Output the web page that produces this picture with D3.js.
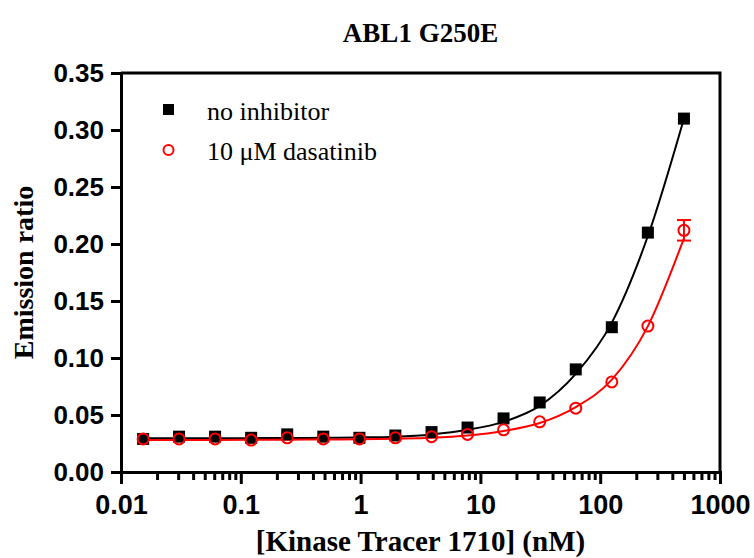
<!DOCTYPE html>
<html>
<head>
<meta charset="utf-8">
<script src="https://cdn.jsdelivr.net/npm/d3@7/dist/d3.min.js"></script>
<style>
  body { margin: 0; background: #fff; }
  svg { display: block; }
</style>
</head>
<body>
<svg width="754" height="558"></svg>
<script>
// tracer concentrations (nM), 2-fold dilution series
const conc = [0.0153, 0.0305, 0.061, 0.122, 0.244, 0.488, 0.977, 1.95, 3.91, 7.81, 15.6, 31.25, 62.5, 125, 250, 500];
// measured emission ratios
const noInhibitor = [0.029, 0.031, 0.031, 0.030, 0.033, 0.031, 0.030, 0.032, 0.035, 0.039, 0.047, 0.061, 0.090, 0.127, 0.210, 0.310];
const dasatinib = [0.029, 0.029, 0.029, 0.028, 0.030, 0.029, 0.029, 0.030, 0.031, 0.033, 0.037, 0.044, 0.056, 0.079, 0.128, 0.212];
const dasatinibErr = [0, 0, 0, 0, 0, 0, 0, 0, 0, 0, 0, 0, 0, 0, 0, 0.009];
// fitted curves at the same concentrations
const fitNoInhibitor = [0.0295, 0.0295, 0.0296, 0.0297, 0.0298, 0.0300, 0.0303, 0.031, 0.033, 0.037, 0.044, 0.058, 0.086, 0.131, 0.207, 0.310];
const fitDasatinib = [0.0280, 0.0280, 0.0281, 0.0282, 0.0283, 0.0285, 0.0287, 0.0292, 0.030, 0.032, 0.036, 0.043, 0.057, 0.081, 0.128, 0.205];

const xTicks = [0.01, 0.1, 1, 10, 100, 1000];
const yTicks = [0, 0.05, 0.10, 0.15, 0.20, 0.25, 0.30, 0.35];
const legendLabels = ["no inhibitor", "10 \u03bcM dasatinib"];

const svg = d3.select("svg");
const pLeft = 121, pRight = 720, pTop = 73, pBottom = 472;
const sans = "Liberation Sans, Arial, sans-serif";
const serif = "Liberation Serif, Times New Roman, serif";

const x = d3.scaleLog().domain([0.01, 1000]).range([pLeft, pRight]);
const y = d3.scaleLinear().domain([0, 0.35]).range([pBottom, pTop]);

// frame (top and right)
svg.append("path")
  .attr("d", `M${pLeft},${pTop}H${pRight}V${pBottom}`)
  .attr("fill", "none")
  .attr("stroke", "#000")
  .attr("stroke-width", 3);

// y axis
const yAxis = svg.append("g")
  .attr("transform", `translate(${pLeft},0)`)
  .call(d3.axisLeft(y).tickValues(yTicks).tickFormat(d3.format(".2f")).tickSize(10).tickPadding(7));
yAxis.select(".domain").attr("stroke-width", 3);
yAxis.selectAll(".tick line").attr("stroke-width", 3);
yAxis.selectAll("text")
  .attr("font-family", sans)
  .attr("font-weight", "bold")
  .attr("font-size", 26)
  .attr("fill", "#000");

// x axis: minor ticks
const minor = [];
for (let e = -2; e < 3; e++) {
  for (let k = 2; k <= 9; k++) minor.push(k * Math.pow(10, e));
}
const xMinor = svg.append("g")
  .attr("transform", `translate(0,${pBottom})`)
  .call(d3.axisBottom(x).tickValues(minor).tickFormat("").tickSize(8));
xMinor.select(".domain").remove();
xMinor.selectAll(".tick line").attr("stroke-width", 3);

const xAxis = svg.append("g")
  .attr("transform", `translate(0,${pBottom})`)
  .call(d3.axisBottom(x).tickValues(xTicks).tickFormat(d => String(d)).tickSize(12).tickPadding(11));
xAxis.select(".domain").attr("stroke-width", 3);
xAxis.selectAll(".tick line").attr("stroke-width", 3);
xAxis.selectAll("text")
  .attr("font-family", sans)
  .attr("font-weight", "bold")
  .attr("font-size", 27)
  .attr("fill", "#000");

// fitted curves
const line = d3.line()
  .x(d => x(d[0]))
  .y(d => y(d[1]))
  .curve(d3.curveMonotoneX);

svg.append("path")
  .datum(conc.map((c, i) => [c, fitNoInhibitor[i]]))
  .attr("d", line)
  .attr("fill", "none")
  .attr("stroke", "#000")
  .attr("stroke-width", 2);

svg.append("path")
  .datum(conc.map((c, i) => [c, fitDasatinib[i]]))
  .attr("d", line)
  .attr("fill", "none")
  .attr("stroke", "#ff0000")
  .attr("stroke-width", 2);

// black squares
svg.append("g")
  .selectAll("rect")
  .data(conc.map((c, i) => [c, noInhibitor[i]]))
  .enter().append("rect")
  .attr("x", d => x(d[0]) - 6)
  .attr("y", d => y(d[1]) - 6)
  .attr("width", 12)
  .attr("height", 12)
  .attr("fill", "#000");

// red error bars
const errs = conc.map((c, i) => [c, dasatinib[i], dasatinibErr[i]]).filter(d => d[2] > 0);
const eb = svg.append("g").attr("stroke", "#ff0000").attr("stroke-width", 2);
eb.selectAll("line.v")
  .data(errs)
  .enter().append("line")
  .attr("x1", d => x(d[0])).attr("x2", d => x(d[0]))
  .attr("y1", d => y(d[1] - d[2])).attr("y2", d => y(d[1] + d[2]));
eb.selectAll("line.top")
  .data(errs)
  .enter().append("line")
  .attr("x1", d => x(d[0]) - 7).attr("x2", d => x(d[0]) + 7)
  .attr("y1", d => y(d[1] + d[2])).attr("y2", d => y(d[1] + d[2]));
eb.selectAll("line.bot")
  .data(errs)
  .enter().append("line")
  .attr("x1", d => x(d[0]) - 7).attr("x2", d => x(d[0]) + 7)
  .attr("y1", d => y(d[1] - d[2])).attr("y2", d => y(d[1] - d[2]));

// red open circles
svg.append("g")
  .selectAll("circle")
  .data(conc.map((c, i) => [c, dasatinib[i]]))
  .enter().append("circle")
  .attr("cx", d => x(d[0]))
  .attr("cy", d => y(d[1]))
  .attr("r", 5.5)
  .attr("fill", "none")
  .attr("stroke", "#ff0000")
  .attr("stroke-width", 2);

// legend
const legend = svg.append("g");
legend.append("rect")
  .attr("x", 163).attr("y", 104).attr("width", 11).attr("height", 11)
  .attr("fill", "#000");
legend.append("circle")
  .attr("cx", 168.5).attr("cy", 150).attr("r", 5)
  .attr("fill", "none").attr("stroke", "#ff0000").attr("stroke-width", 2);
legend.selectAll("text")
  .data(legendLabels)
  .enter().append("text")
  .attr("x", 207)
  .attr("y", (d, i) => 120 + i * 40)
  .attr("font-family", serif)
  .attr("font-size", 26)
  .attr("fill", "#000")
  .text(d => d);

// titles
svg.append("text")
  .attr("x", (pLeft + pRight) / 2).attr("y", 42)
  .attr("text-anchor", "middle")
  .attr("font-family", serif)
  .attr("font-weight", "bold")
  .attr("font-size", 27)
  .text("ABL1 G250E");

svg.append("text")
  .attr("x", (pLeft + pRight) / 2).attr("y", 551)
  .attr("text-anchor", "middle")
  .attr("font-family", serif)
  .attr("font-weight", "bold")
  .attr("font-size", 29)
  .text("[Kinase Tracer 1710] (nM)");

svg.append("text")
  .attr("transform", `translate(33,${(pTop + pBottom) / 2}) rotate(-90)`)
  .attr("text-anchor", "middle")
  .attr("font-family", serif)
  .attr("font-weight", "bold")
  .attr("font-size", 28)
  .text("Emission ratio");
</script>
</body>
</html>
